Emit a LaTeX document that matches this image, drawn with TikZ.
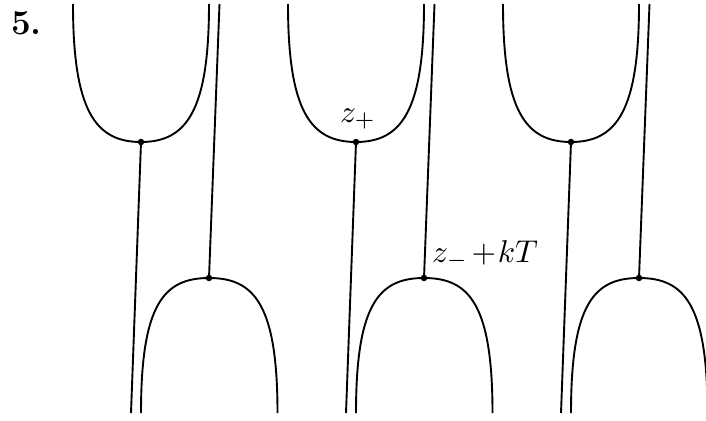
\documentclass[tikz,border=0pt]{standalone}
\usepackage{fix-cm}
\begin{document}
\begin{tikzpicture}[x=1pt,y=-1pt,
  curve/.style={line width=1.9pt},
  dotn/.style={circle,fill,inner sep=0pt,minimum size=6.5pt},
  lab/.style={anchor=base west,inner sep=0pt}]
\useasboundingbox (0,0) rectangle (706,420);
\clip (0,0) rectangle (706,420);
\foreach \k in {0,1,2}{
\begin{scope}[xshift=\k*215pt]
  \coordinate (ua\k) at (73,4);
  \coordinate (ub\k) at (209,4);
  \coordinate (ud\k) at (131,413);
  \coordinate (lt\k) at (219.5,4);
  \coordinate (cl\k) at (141,413);
  \coordinate (cr\k) at (277.5,413);
  \draw[curve] (ua\k) .. controls (73,110) and (95,142) .. (141,142)
     .. controls (187,142) and (209,110) .. (ub\k);
  \draw[curve] (cl\k) .. controls (141,304) and (164,278) .. (209,278)
     .. controls (254,278) and (277.5,304) .. (cr\k);
  \node[dotn] (u\k) at (141,142) {};
  \node[dotn] (l\k) at (209,278) {};
  \draw[curve] (u\k.center) -- (ud\k);
  \draw[curve] (lt\k) -- (l\k.center);
\end{scope}
}
\node[anchor=base west,inner sep=0pt,font=\fontsize{35}{40}\selectfont\bfseries] (num) at (11,35) {5.};
\node[lab] (zp) at (340,122) {\scalebox{3.15}{$z_+$}};
\node[lab] (zm) at (432,262) {\scalebox{3.15}{$z_-\mskip2mu{+}\mskip1mu kT$}};
\end{tikzpicture}
\end{document}
